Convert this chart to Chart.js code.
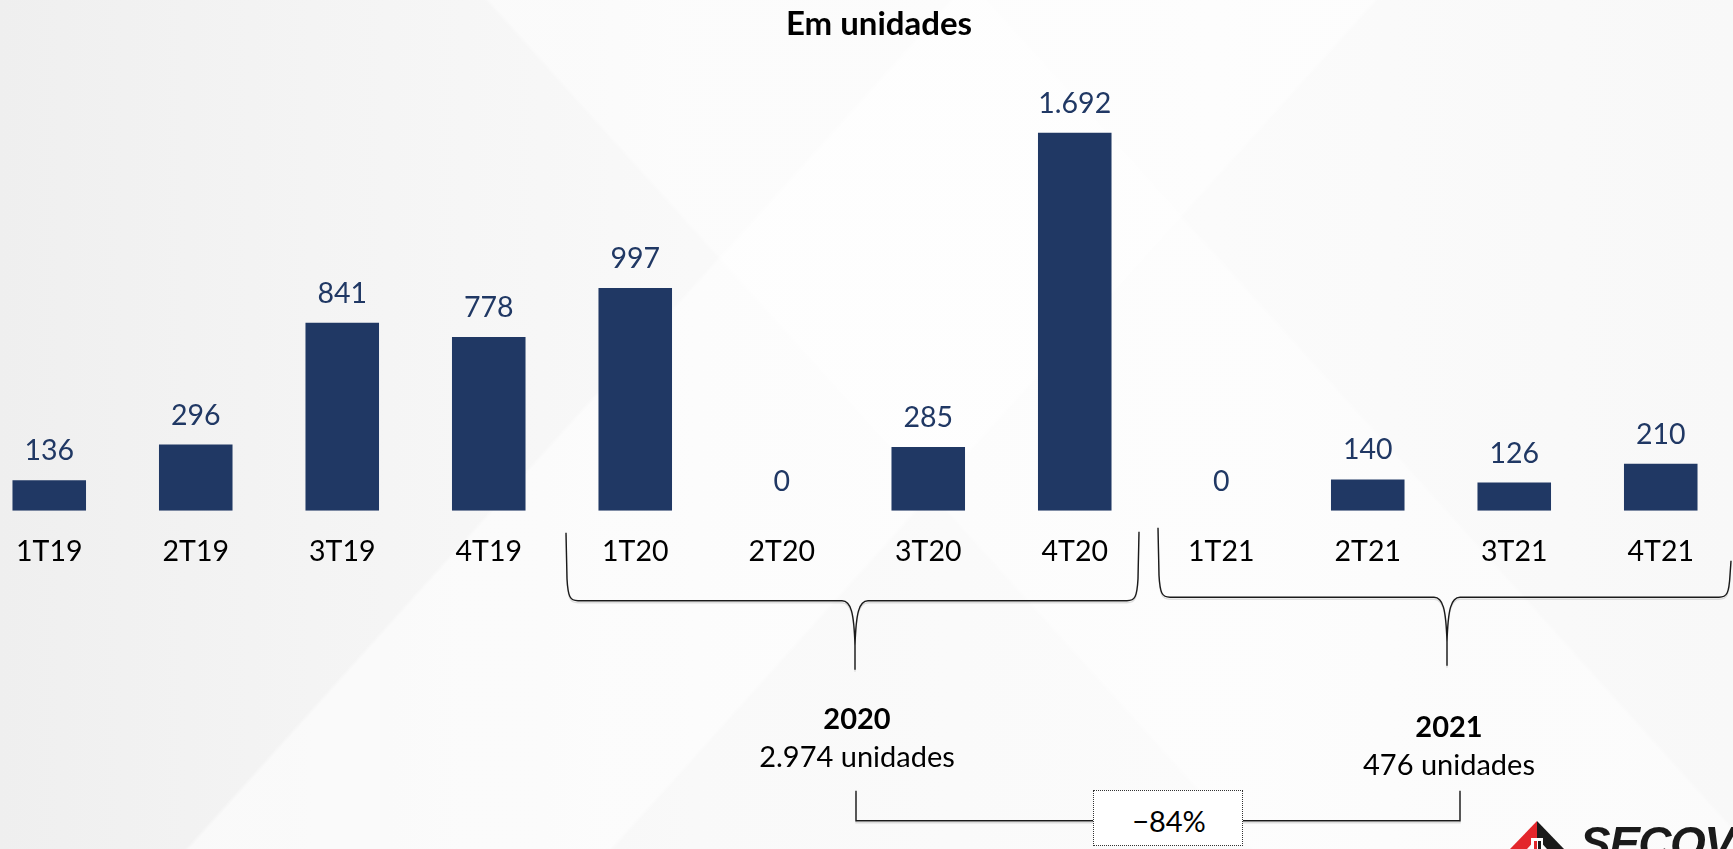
<!DOCTYPE html>
<html>
<head>
<meta charset="utf-8">
<script src="https://cdn.jsdelivr.net/npm/chart.js@4.4.1/dist/chart.umd.min.js"></script>
<style>
html,body{margin:0;padding:0;width:1733px;height:849px;overflow:hidden;}
body{position:relative;font-family:Lato,"Open Sans",sans-serif;
  background:
    linear-gradient(132deg, rgba(255,255,255,0) 0%, rgba(255,255,255,0) 38%, rgba(255,255,255,0.55) 38.2%, rgba(255,255,255,0.55) 55%, rgba(255,255,255,0) 55.2%),
    linear-gradient(48deg, rgba(255,255,255,0) 0%, rgba(255,255,255,0) 50%, rgba(255,255,255,0.45) 50.2%, rgba(255,255,255,0.45) 70%, rgba(255,255,255,0) 70.2%),
    linear-gradient(90deg, #efefef 0%, #f4f4f4 18%, #f9f9f9 40%, #fbfbfb 70%, #f8f8f8 100%);}
#wrap{position:absolute;left:-24px;top:0;width:1758px;height:849px;}
.t{position:absolute;white-space:nowrap;transform:translateX(-50%);line-height:1;color:#000;}
#box{position:absolute;left:1093px;top:790px;width:150px;height:56px;background:#fff;border:1.5px dotted #333;box-sizing:border-box;}
#logo{position:absolute;left:0;top:0;width:1733px;height:849px;pointer-events:none;}
#secovi{position:absolute;left:1580px;top:820px;font-family:"Liberation Sans",Arial,sans-serif;font-weight:bold;font-style:italic;font-size:46px;line-height:1;letter-spacing:-1.5px;color:#1a1a1a;white-space:nowrap;}
</style>
</head>
<body>
<div id="wrap"><canvas id="c" width="1758" height="849"></canvas></div>

<div class="t" style="left:879px;top:6px;font-size:33px;font-weight:bold;">Em unidades</div>

<div id="box"></div>
<div class="t" style="left:857px;top:703px;font-size:29px;font-weight:bold;">2020</div>
<div class="t" style="left:857px;top:741px;font-size:29px;">2.974 unidades</div>
<div class="t" style="left:1449px;top:711px;font-size:29px;font-weight:bold;">2021</div>
<div class="t" style="left:1449px;top:749px;font-size:29px;">476 unidades</div>
<div class="t" style="left:1169px;top:806px;font-size:29px;">−84%</div>

<svg id="logo" viewBox="0 0 1733 849">
  <polygon points="1537,821 1510,849 1527,849 1537,838" fill="#e3262b"/>
  <polygon points="1537,821 1564,849 1547,849 1537,838" fill="#1a1a1a"/>
  <rect x="1531" y="838" width="12" height="11" fill="#ffffff"/>
  <rect x="1534" y="841" width="3" height="8" fill="#e3262b"/>
  <rect x="1538" y="841" width="3" height="8" fill="#1a1a1a"/>
</svg>
<div id="secovi">SECOVI</div>

<script>
// ---- data ----
const categories = ["1T19","2T19","3T19","4T19","1T20","2T20","3T20","4T20","1T21","2T21","3T21","4T21"];
const unidades   = [136, 296, 841, 778, 997, 0, 285, 1692, 0, 140, 126, 210];

const NAVY = "#203864";
const LABEL_FONT = "28.5px Lato, 'Open Sans', sans-serif";

function fmt(v){ return String(v).replace(/\B(?=(\d{3})+(?!\d))/g, "."); }

const valueLabels = {
  id: "valueLabels",
  afterDatasetsDraw(chart){
    const ctx = chart.ctx;
    const meta = chart.getDatasetMeta(0);
    ctx.save();
    ctx.font = LABEL_FONT;
    ctx.fillStyle = NAVY;
    ctx.textAlign = "center";
    ctx.textBaseline = "alphabetic";
    meta.data.forEach((bar, i) => {
      ctx.fillText(fmt(unidades[i]), bar.x, bar.y - 20);
    });
    ctx.restore();
  }
};

function brace(ctx, L, R, C, yTL, yTR, yA, yB){
  ctx.beginPath();
  ctx.moveTo(L, yTL);
  ctx.lineTo(L + 1, yA - 22);
  ctx.bezierCurveTo(L + 2, yA - 4, L + 4, yA, L + 12, yA);
  ctx.lineTo(C - 13, yA);
  ctx.bezierCurveTo(C - 4, yA, C - 1, yA + 12, C, yA + 45);
  ctx.lineTo(C, yB);
  ctx.moveTo(R, yTR);
  ctx.lineTo(R - 1, yA - 22);
  ctx.bezierCurveTo(R - 2, yA - 4, R - 4, yA, R - 12, yA);
  ctx.lineTo(C + 13, yA);
  ctx.bezierCurveTo(C + 4, yA, C + 1, yA + 12, C, yA + 45);
  ctx.stroke();
}

const annotations = {
  id: "annotations",
  afterDraw(chart){
    const ctx = chart.ctx;
    const xs = chart.scales.x;
    const base = chart.chartArea.bottom;
    const edge = v => xs.getPixelForValue(v);
    ctx.save();
    ctx.lineWidth = 1.4;
    // soft shadow
    ctx.strokeStyle = "rgba(0,0,0,0.12)";
    ctx.translate(0, 2);
    const c1 = (edge(3.5) + edge(7.5)) / 2;
    const c2 = (edge(7.5) + edge(11.5)) / 2 + 6;
    const draw = () => {
      brace(ctx, edge(3.5) + 4, edge(7.5) - 9, c1, base + 22, base + 21, base + 90, base + 159);
      brace(ctx, edge(7.5) + 10, edge(11.5) - 3, c2, base + 17, base + 50, base + 86.5, base + 155);
      // connector 2020 -> 2021
      const lx = c1 + 1, rx = c2 + 13, yTop = base + 280, yLine = base + 310;
      ctx.beginPath();
      ctx.moveTo(lx, yTop); ctx.lineTo(lx, yLine); ctx.lineTo(rx, yLine); ctx.lineTo(rx, yTop);
      ctx.stroke();
    };
    draw();
    ctx.translate(0, -2);
    ctx.strokeStyle = "#1a1a1a";
    draw();
    ctx.restore();
  }
};

new Chart(document.getElementById("c"), {
  type: "bar",
  data: {
    labels: categories,
    datasets: [{
      data: unidades,
      backgroundColor: NAVY,
      borderWidth: 0,
      categoryPercentage: 1.0,
      barPercentage: 0.502
    }]
  },
  options: {
    responsive: false,
    devicePixelRatio: 1,
    animation: false,
    layout: { padding: { top: 64, bottom: 278.3, left: 0, right: 0 } },
    plugins: { legend: { display: false }, tooltip: { enabled: false }, title: { display: false } },
    scales: {
      x: {
        grid: { display: false, drawTicks: false },
        border: { display: false },
        ticks: { color: "#000", font: { family: "Lato, 'Open Sans', sans-serif", size: 28.5 }, padding: 24, maxRotation: 0, autoSkip: false },
        afterFit: s => { s.height = 60; }
      },
      y: { display: false, min: 0, max: 2000 }
    }
  },
  plugins: [valueLabels, annotations]
});
</script>
</body>
</html>
